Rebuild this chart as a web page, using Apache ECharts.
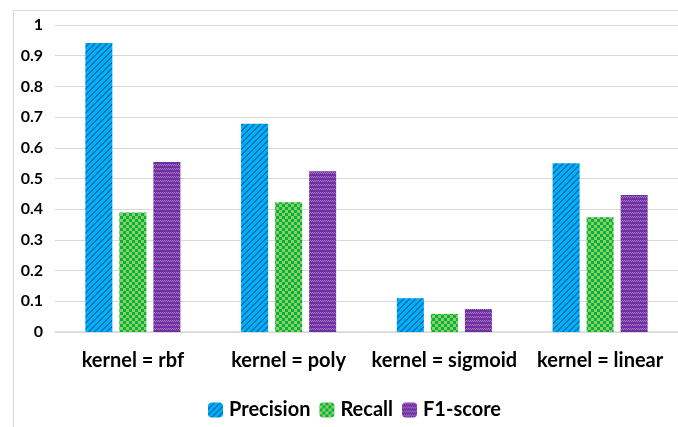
<!DOCTYPE html>
<html><head><meta charset="utf-8">
<script src="https://cdn.jsdelivr.net/npm/echarts@6/dist/echarts.min.js"></script>
<style>html,body{margin:0;padding:0;background:#fff}#c{width:678px;height:427px}</style>
</head><body><div id="c"></div>
<script>
const categories = ['kernel = rbf', 'kernel = poly', 'kernel = sigmoid', 'kernel = linear'];
const precision = [0.941, 0.678, 0.110, 0.550];
const recall = [0.389, 0.423, 0.059, 0.374];
const f1score = [0.554, 0.524, 0.075, 0.446];
const seriesNames = ['Precision', 'Recall', 'F1-score'];

function tile(size, draw) {
  const c = document.createElement('canvas');
  c.width = size; c.height = size;
  draw(c.getContext('2d'));
  return c;
}
const stripe = tile(6, g => {
  g.fillStyle = '#00B0F0'; g.fillRect(0,0,6,6);
  g.fillStyle = '#0070C0';
  for (let y = 0; y < 6; y++) {
    for (let k = 0; k < 2; k++) {
      const x = ((5 - y) + k + 6) % 6;
      g.fillRect(x, y, 1, 1);
    }
  }
});
const checker = tile(6, g => {
  g.fillStyle = '#92D050'; g.fillRect(0,0,6,6);
  g.fillStyle = '#00B050'; g.fillRect(0,0,3,3); g.fillRect(3,3,3,3);
});
const zigzag = tile(4, g => {
  g.fillStyle = '#7030A0'; g.fillRect(0,0,4,4);
  g.fillStyle = '#A77DCB';
  g.fillRect(0,0,1,1); g.fillRect(1,1,1,1); g.fillRect(2,0,1,1); g.fillRect(3,1,1,1);
});
const pats = [stripe, checker, zigzag];
const datas = [precision, recall, f1score];

const chart = echarts.init(document.getElementById('c'));
chart.setOption({
  animation: false,
  graphic: [{type:'rect', shape:{x:13.5,y:10.5,width:700,height:440}, style:{fill:'none', stroke:'#d9d9d9', lineWidth:1}, silent:true}],
  grid: {left: 55, right: 0, top: 25, bottom: 95, containLabel: false},
  legend: {
    top: 395, left: 203, itemWidth: 15, itemHeight: 15, itemGap: 9,
    textStyle: {fontFamily: 'Lato', fontWeight: 'bold', fontSize: 20, color: '#000', padding: [0,0,0,1]},
    data: seriesNames
  },
  xAxis: {
    type: 'category', data: categories,
    axisLine: {lineStyle: {color: '#d9d9d9', width: 1.5}},
    axisTick: {show: false},
    axisLabel: {interval: 0, fontFamily: 'Lato', fontWeight: 'bold', fontSize: 20, color: '#000', margin: 19}
  },
  yAxis: {
    type: 'value', min: 0, max: 1, interval: 0.1,
    axisLine: {show: false}, axisTick: {show: false},
    splitLine: {lineStyle: {color: '#d9d9d9'}},
    axisLabel: {fontFamily: 'Lato', fontWeight: 'bold', fontSize: 16, color: '#000', margin: 12}
  },
  series: seriesNames.map((n, i) => ({
    name: n, type: 'bar', data: datas[i], barWidth: 27, barGap: '26%',
    itemStyle: {color: {image: pats[i], repeat: 'repeat'}}
  }))
});
</script></body></html>
